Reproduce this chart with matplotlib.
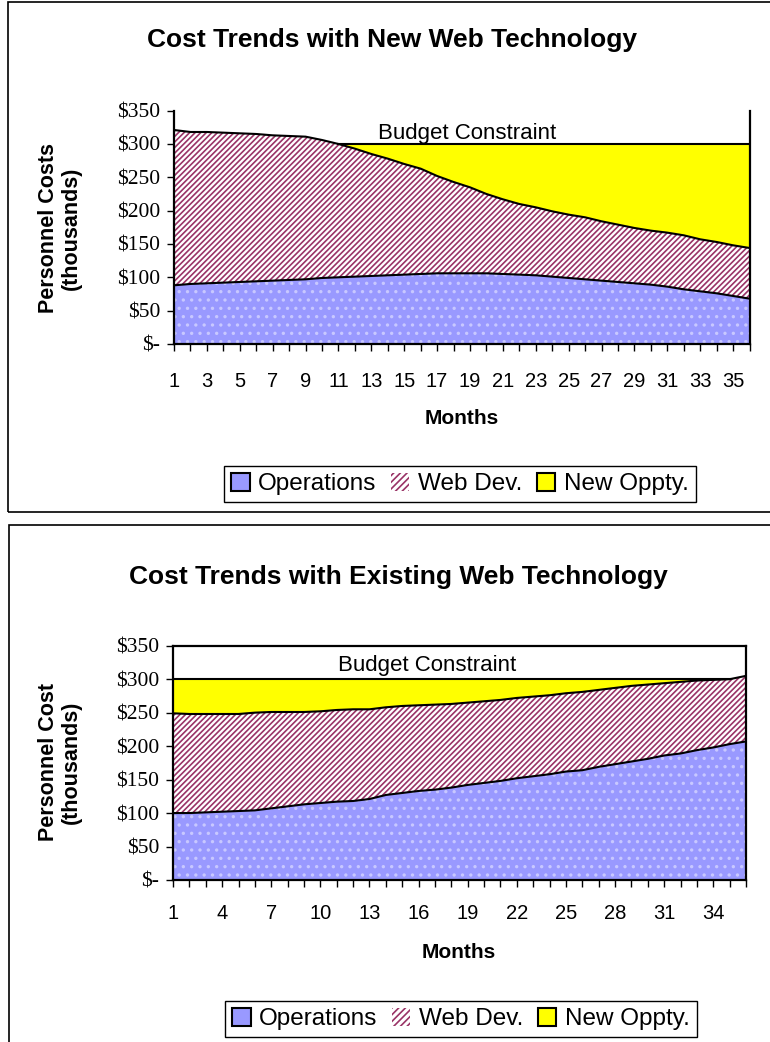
import matplotlib
matplotlib.use("Agg")
import matplotlib.pyplot as plt
from matplotlib.patches import Patch, Rectangle
import numpy as np

# months 1..36
months = list(range(1, 37))

# chart 1: new web technology (thousands $)
ops_new = [88, 90, 91, 92, 93, 94, 95, 96, 97, 99, 100, 101, 102, 103, 104, 105, 106, 106,
           106, 106, 105, 104, 103, 101, 99, 97, 95, 93, 91, 89, 86, 82, 79, 76, 72, 68]
web_new = [233, 228, 227, 225, 223, 221, 218, 216, 214, 207, 200, 192, 183, 175, 166, 158, 146, 137,
           129, 119, 112, 106, 102, 98, 95, 93, 89, 86, 83, 81, 81, 81, 78, 77, 76, 76]
opp_new = [0, 0, 0, 0, 0, 0, 0, 0, 0, 0, 0, 7, 15, 22, 30, 37, 48, 57,
           65, 75, 83, 90, 95, 101, 106, 110, 116, 121, 126, 130, 133, 137, 143, 147, 152, 156]

# chart 2: existing web technology
ops_old = [100, 100, 101, 102, 103, 104, 107, 110, 113, 115, 117, 118, 121, 127, 130, 133, 135, 138,
           142, 145, 148, 152, 155, 158, 162, 164, 169, 173, 177, 181, 186, 189, 194, 198, 203, 207]
web_old = [149, 148, 147, 146, 145, 146, 144, 141, 138, 137, 137, 137, 134, 131, 130, 128, 127, 125,
           123, 122, 121, 120, 119, 118, 117, 117, 115, 114, 113, 111, 108, 107, 104, 101, 97, 98]
opp_old = [51, 52, 52, 52, 52, 50, 49, 49, 49, 48, 46, 45, 45, 42, 40, 39, 38, 37,
           35, 33, 31, 28, 26, 24, 21, 19, 16, 13, 10, 8, 6, 4, 2, 1, 0, 0]

yticks = [0, 50, 100, 150, 200, 250, 300, 350]
ytick_labels = ["$-", "$50", "$100", "$150", "$200", "$250", "$300", "$350"]

OPS_C = "#9999FF"
WEB_C = "#993366"
OPP_C = "#FFFF00"

plt.rcParams["font.family"] = ["Liberation Sans", "DejaVu Sans"]
plt.rcParams["hatch.linewidth"] = 1.2

W, H = 770, 1042
fig = plt.figure(figsize=(7.7, 10.42), dpi=100)

# outer chart borders
fig.add_artist(Rectangle((0.0104, 0.5086), 1.0, 0.4895, transform=fig.transFigure,
                         fill=False, edgecolor="black", linewidth=1.2))
fig.add_artist(Rectangle((0.0117, -0.05), 1.0, 0.5462, transform=fig.transFigure,
                         fill=False, edgecolor="black", linewidth=1.2))


def draw_chart(ax, ops, web, opp, step, top_spine, pad):
    x = np.array(months)
    ops = np.array(ops)
    web = np.array(web)
    opp = np.array(opp)
    s1 = ops
    s2 = ops + web
    s3 = ops + web + opp
    ax.fill_between(x, 0, s1, facecolor=OPS_C, edgecolor="#C8C8FF", hatch="..", linewidth=0)
    ax.fill_between(x, s1, s2, facecolor="white", edgecolor=WEB_C, hatch="//////", linewidth=0)
    ax.fill_between(x, s2, s3, facecolor=OPP_C, linewidth=0)
    ax.plot(x, s1, color="black", linewidth=1.5)
    ax.plot(x, s2, color="black", linewidth=1.5)
    m = opp > 0
    m = m | np.r_[m[1:], False] | np.r_[False, m[:-1]]
    ax.plot(x[m], s3[m], color="black", linewidth=1.5)

    ax.set_xlim(1, 36)
    ax.set_ylim(0, 350)
    ax.set_yticks(yticks)
    ax.set_yticklabels(ytick_labels, family="Liberation Serif", fontsize=15.5)
    ax.set_xticks(months)
    ax.set_xticklabels([str(mm) if (mm - 1) % step == 0 else "" for mm in months], fontsize=14.5)
    ax.tick_params(axis="both", direction="out", length=5, width=1)
    ax.tick_params(axis="y", pad=5)
    ax.tick_params(axis="x", pad=pad)
    for sp in ["left", "bottom", "right"]:
        ax.spines[sp].set_linewidth(1.6)
    ax.spines["top"].set_visible(top_spine)
    ax.spines["top"].set_linewidth(1.6)


ax1 = fig.add_axes([0.226, 0.6699, 0.7474, 0.2239])
draw_chart(ax1, ops_new, web_new, opp_new, 2, False, 15)
ax1.text(18.8, 316, "Budget Constraint", ha="center", va="center", fontsize=16)

ax2 = fig.add_axes([0.2247, 0.1555, 0.7442, 0.2248])
draw_chart(ax2, ops_old, web_old, opp_old, 3, True, 12.5)
ax2.text(16.5, 321, "Budget Constraint", ha="center", va="center", fontsize=16)

fig.text(392 / W, 1 - 40 / H, "Cost Trends with New Web Technology", ha="center", va="center",
         fontsize=19, fontweight="bold")
fig.text(398 / W, 1 - 577 / H, "Cost Trends with Existing Web Technology", ha="center", va="center",
         fontsize=19, fontweight="bold")
fig.text(60 / W, 1 - 228 / H, "Personnel Costs\n(thousands)", rotation=90, ha="center", va="center",
         fontsize=15.5, fontweight="bold", linespacing=1.15)
fig.text(60 / W, 1 - 762 / H, "Personnel Cost\n(thousands)", rotation=90, ha="center", va="center",
         fontsize=15.5, fontweight="bold", linespacing=1.15)
fig.text(462 / W, 1 - 418 / H, "Months", ha="center", va="center", fontsize=15, fontweight="bold")
fig.text(459 / W, 1 - 953 / H, "Months", ha="center", va="center", fontsize=15, fontweight="bold")

handles = [
    Patch(facecolor=OPS_C, edgecolor="black", linewidth=1.5),
    Patch(facecolor="white", edgecolor=WEB_C, hatch="/////", linewidth=0),
    Patch(facecolor=OPP_C, edgecolor="black", linewidth=1.5),
]
labels = ["Operations", "Web Dev.", "New Oppty."]
for yc, xc in [(1 - 484 / H, 460 / W), (1 - 1019 / H, 461 / W)]:
    leg = fig.legend(handles, labels, loc="center", bbox_to_anchor=(xc, yc), ncol=3, fontsize=17.5,
                     fancybox=False, framealpha=1, edgecolor="black", handlelength=0.75,
                     handleheight=0.75, handletextpad=0.35, columnspacing=0.6, borderpad=0.3,
                     borderaxespad=0)
    leg.get_frame().set_linewidth(1.0)

fig.savefig("out.png", dpi=100)
